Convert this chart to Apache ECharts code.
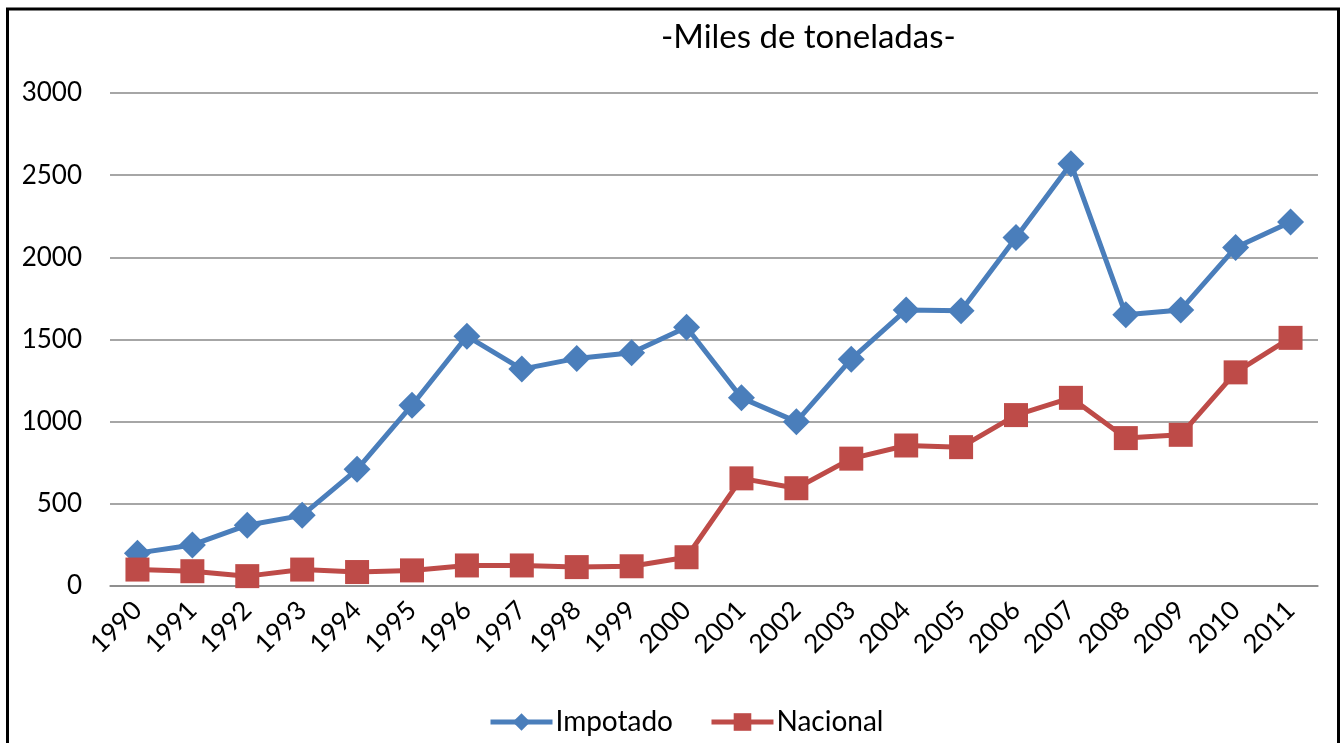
<!DOCTYPE html>
<html>
<head>
<meta charset="utf-8">
<script src="https://cdn.jsdelivr.net/npm/echarts@6/dist/echarts.min.js"></script>
<style>
html,body{margin:0;padding:0;background:#fff;}
#chart{width:1343px;height:743px;}
</style>
</head>
<body>
<div id="chart"></div>
<script>
const years = ['1990','1991','1992','1993','1994','1995','1996','1997','1998','1999','2000','2001','2002','2003','2004','2005','2006','2007','2008','2009','2010','2011'];
const impotado = [200,250,370,430,710,1100,1520,1320,1385,1420,1575,1145,1000,1380,1680,1675,2120,2570,1650,1680,2060,2215];
const nacional = [100,90,60,100,85,95,125,125,115,120,175,655,595,775,855,845,1040,1145,900,920,1300,1510];
const titleText = '-Miles de toneladas-';

const FONT = 'Lato, "Open Sans", sans-serif';
const chart = echarts.init(document.getElementById('chart'));
chart.setOption({
  animation: false,
  backgroundColor: '#fff',
  title: {
    text: titleText,
    left: 656, top: 16,
    textStyle: {fontFamily: FONT, fontSize: 33, fontWeight: 'normal', color: '#000'}
  },
  graphic: [{
    type: 'rect', silent: true,
    shape: {x: 7.5, y: 9, width: 1331, height: 760},
    style: {fill: 'none', stroke: '#000', lineWidth: 3}
  }],
  legend: {
    bottom: 2, left: 483,
    itemWidth: 62, itemHeight: 22, itemGap: 36,
    lineStyle: {width: 5},
    textStyle: {fontFamily: FONT, fontSize: 28, color: '#000', padding: [0, 0, 0, -2]},
    data: ['Impotado', 'Nacional']
  },
  grid: {left: 110, right: 25, top: 93, bottom: 157},
  xAxis: {
    type: 'category', data: years, boundaryGap: true,
    axisLine: {lineStyle: {color: '#888', width: 1.5}},
    axisTick: {show: false},
    axisLabel: {rotate: 45, fontFamily: FONT, fontSize: 26, color: '#000', margin: 20}
  },
  yAxis: {
    type: 'value', min: 0, max: 3000, interval: 500,
    axisLine: {show: false}, axisTick: {show: false},
    splitLine: {lineStyle: {color: '#888', width: 1.5}},
    axisLabel: {fontFamily: FONT, fontSize: 26, color: '#000', margin: 28, formatter: v => String(v)}
  },
  series: [
    {
      name: 'Impotado', type: 'line', data: impotado,
      symbol: 'diamond', symbolSize: 27,
      lineStyle: {color: '#4A7EBB', width: 5},
      itemStyle: {color: '#4A7EBB'}
    },
    {
      name: 'Nacional', type: 'line', data: nacional,
      symbol: 'rect', symbolSize: 24,
      lineStyle: {color: '#BE4B48', width: 5},
      itemStyle: {color: '#BE4B48'}
    }
  ]
});
</script>
</body>
</html>
